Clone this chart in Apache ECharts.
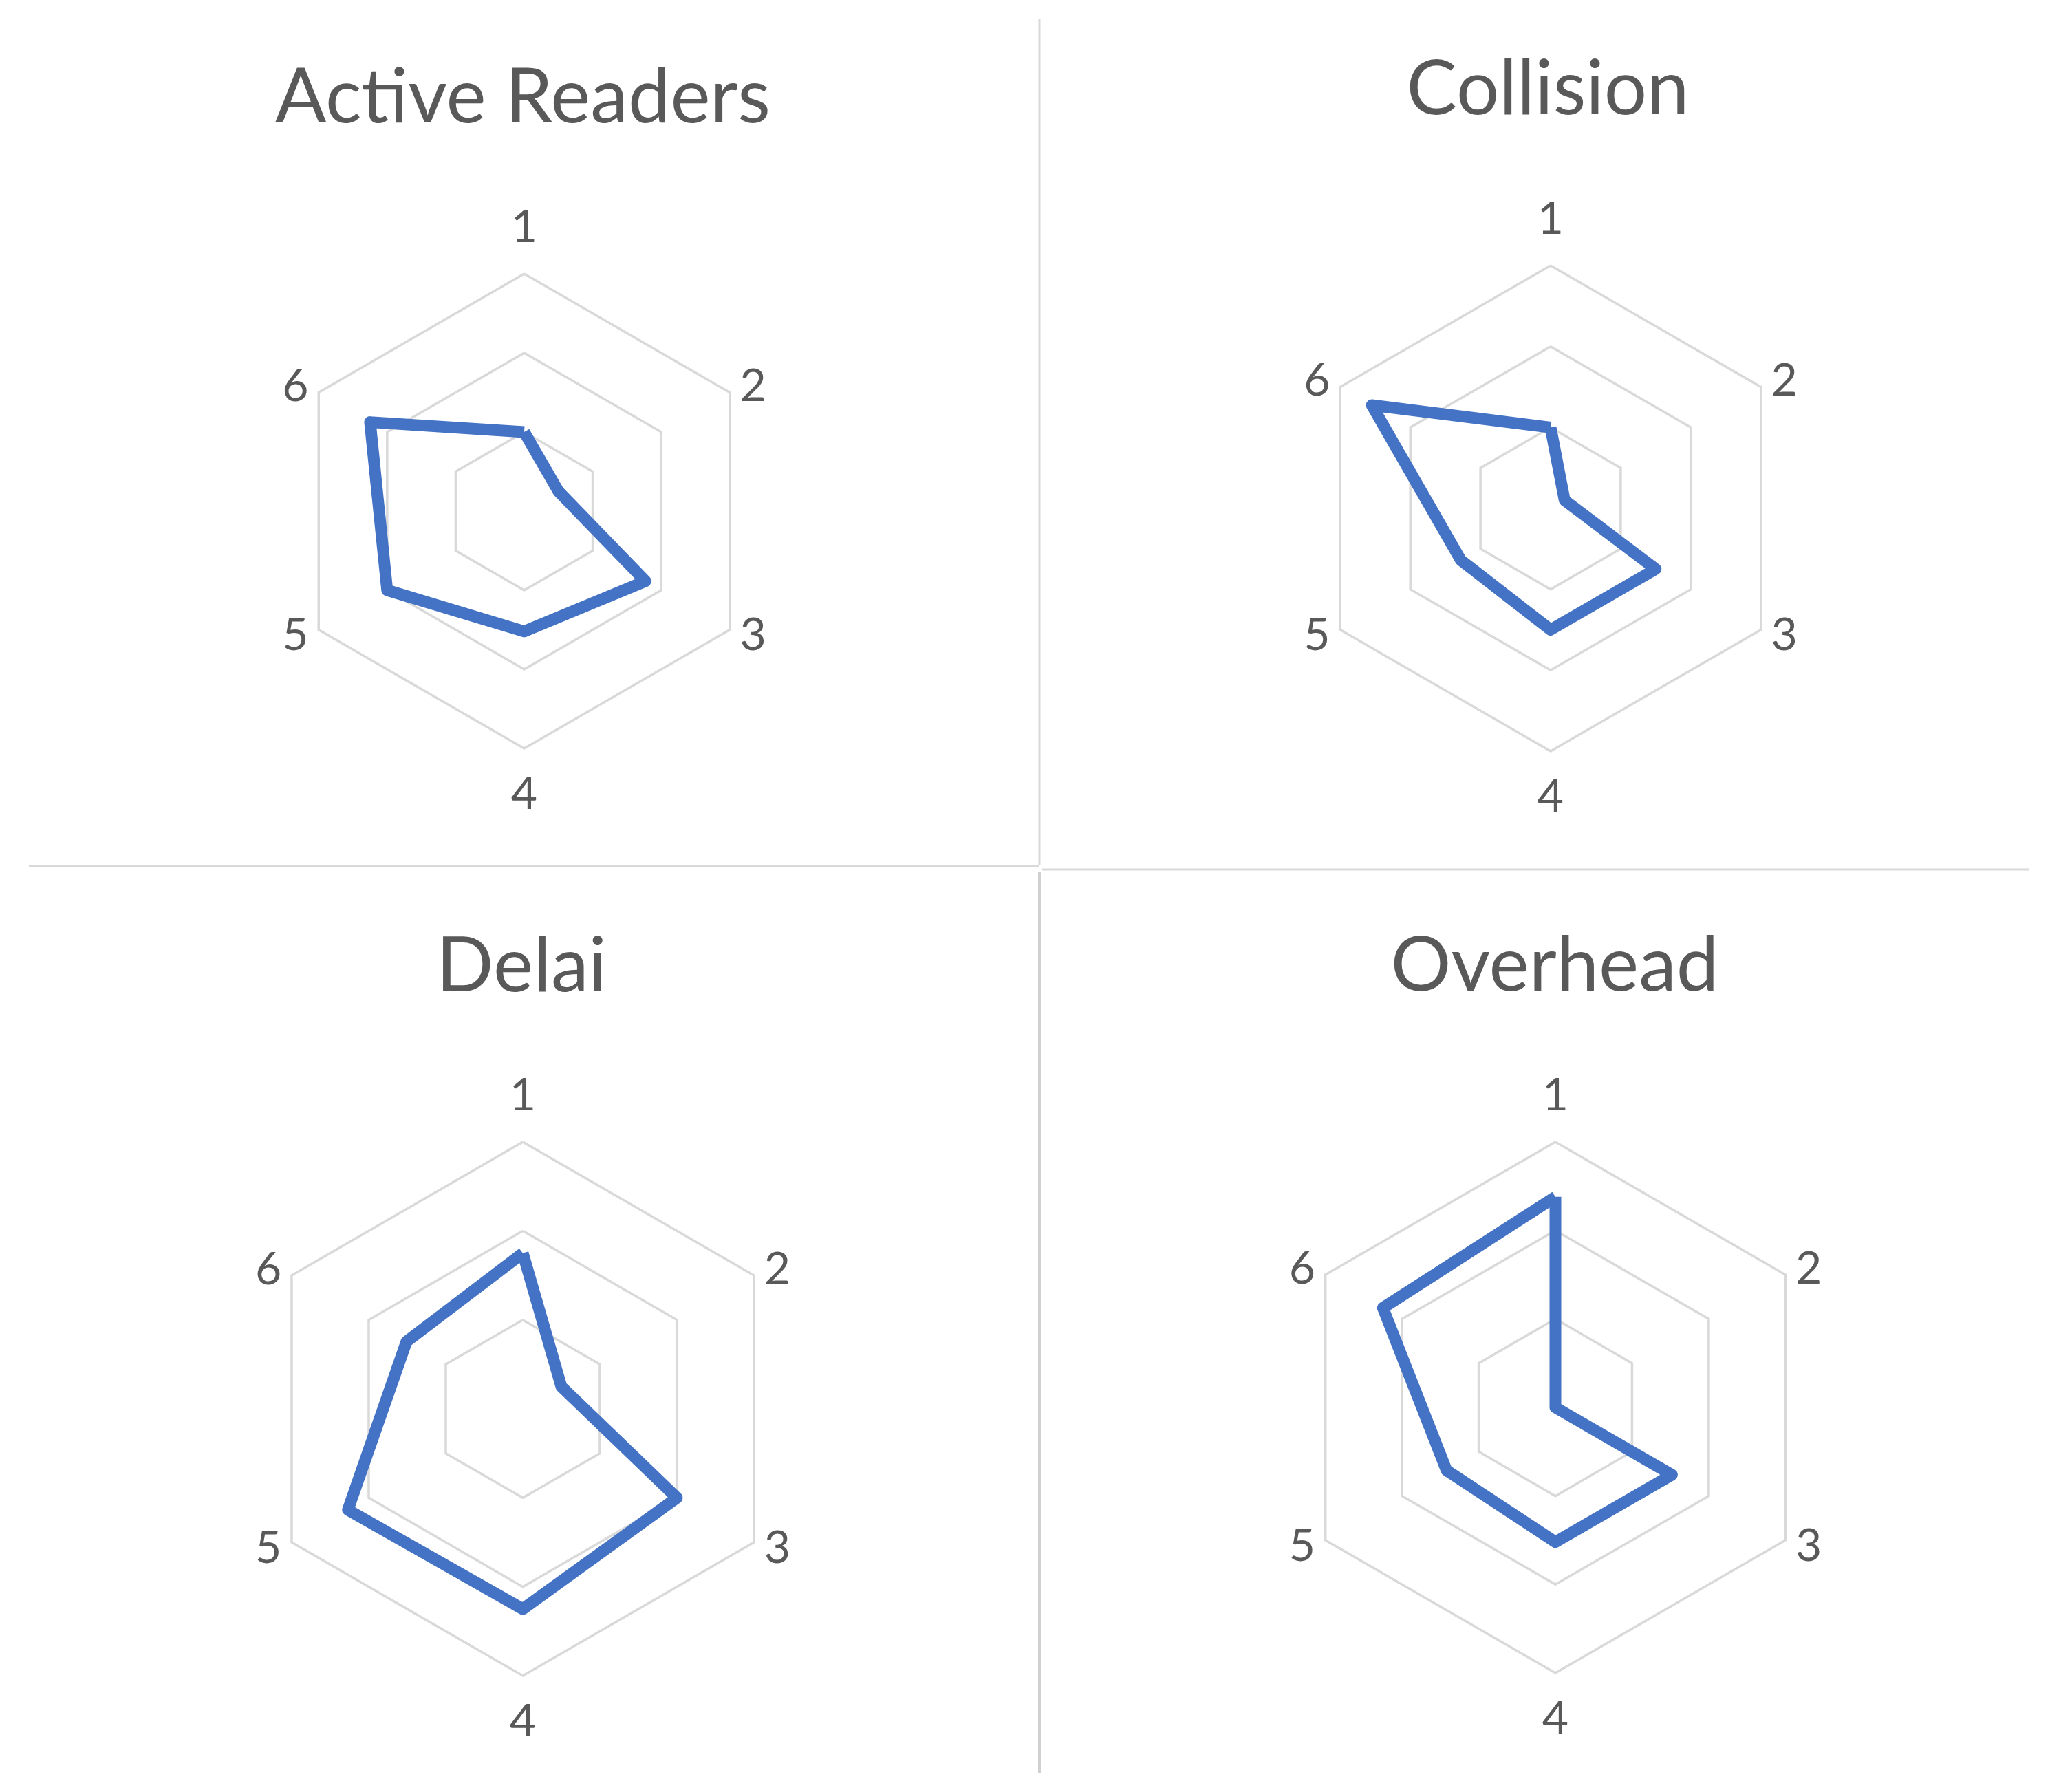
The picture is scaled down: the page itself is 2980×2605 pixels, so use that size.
<!DOCTYPE html>
<html>
<head>
<meta charset="utf-8">
<script src="https://cdn.jsdelivr.net/npm/echarts@6/dist/echarts.min.js"></script>
<style>
html, body { margin: 0; padding: 0; background: #fff; }
#main { width: 2980px; height: 2605px; }
</style>
</head>
<body>
<div id="main"></div>
<script>
// data (scale 0..3, three rings)
var axisNames = ['1', '2', '3', '4', '5', '6'];
var chartTitles = ['Active Readers', 'Collision', 'Delai', 'Overhead'];
var activeReaders = [1.0, 0.5, 1.77, 1.52, 2.0, 2.25];
var collision = [1.0, 0.2, 1.5, 1.5, 1.28, 2.55];
var delai = [1.75, 0.5, 2.0, 2.25, 2.27, 1.51];
var overhead = [2.38, 0, 1.52, 1.52, 1.42, 2.25];
var axisMax = 3;

var allValues = [activeReaders, collision, delai, overhead];

// panel layout
var panels = [
    { cx: 762, cy: 743, r: 345, tx: 760, ty: 143 },
    { cx: 2254, cy: 739, r: 353, tx: 2250, ty: 131 },
    { cx: 760, cy: 2048, r: 388, tx: 758, ty: 1406 },
    { cx: 2261, cy: 2046, r: 386, tx: 2260, ty: 1405 }
]

var textColor = '#595959'
var gridColor = '#d9d9d9'
var lineColor = '#4472c4'
var titleSize = 110

// echarts lays indicators counter-clockwise, Excel goes clockwise
function order(arr) {
    return [arr[0]].concat(arr.slice(1).reverse())
}

var titles = []
var radars = []
var series = []
panels.forEach(function (p, i) {
    titles.push({
        text: chartTitles[i],
        left: p.tx,
        top: p.ty - titleSize / 2,
        textAlign: 'center',
        padding: 0,
        textStyle: {
            fontFamily: 'Lato',
            fontSize: titleSize,
            fontWeight: 'normal',
            color: textColor,
            lineHeight: titleSize
        }
    })
    radars.push({
        center: [p.cx, p.cy],
        radius: p.r,
        startAngle: 90,
        shape: 'polygon',
        splitNumber: 3,
        axisNameGap: 17,
        axisName: {
            color: textColor,
            fontFamily: 'Lato',
            fontSize: 66,
            lineHeight: 100
        },
        indicator: order(axisNames).map(function (n) {
            return { name: n, min: 0, max: axisMax }
        }),
        axisLine: { show: false },
        splitArea: { show: false },
        splitLine: { lineStyle: { color: gridColor, width: 3.5 } }
    })
    series.push({
        type: 'radar',
        radarIndex: i,
        symbol: 'none',
        silent: true,
        lineStyle: { color: lineColor, width: 17, join: 'round' },
        data: [{ value: order(allValues[i]), name: chartTitles[i] }]
    })
})

// panel separators
var sep = { stroke: '#d9d9d9', lineWidth: 3 }
var graphic = [
    { type: 'line', shape: { x1: 42, y1: 1259, x2: 1511, y2: 1259 }, style: sep },
    { type: 'line', shape: { x1: 1515, y1: 1264, x2: 2949, y2: 1264 }, style: sep },
    { type: 'line', shape: { x1: 1511, y1: 28, x2: 1511, y2: 1257 }, style: sep },
    { type: 'line', shape: { x1: 1511, y1: 1268, x2: 1511, y2: 2578 }, style: { stroke: '#d0d0d0', lineWidth: 4 } }
]

var chart = echarts.init(document.getElementById('main'), null, { renderer: 'canvas' })
chart.setOption({
    backgroundColor: '#ffffff',
    animation: false,
    title: titles,
    radar: radars,
    series: series,
    graphic: graphic
})
</script>
</body>
</html>
